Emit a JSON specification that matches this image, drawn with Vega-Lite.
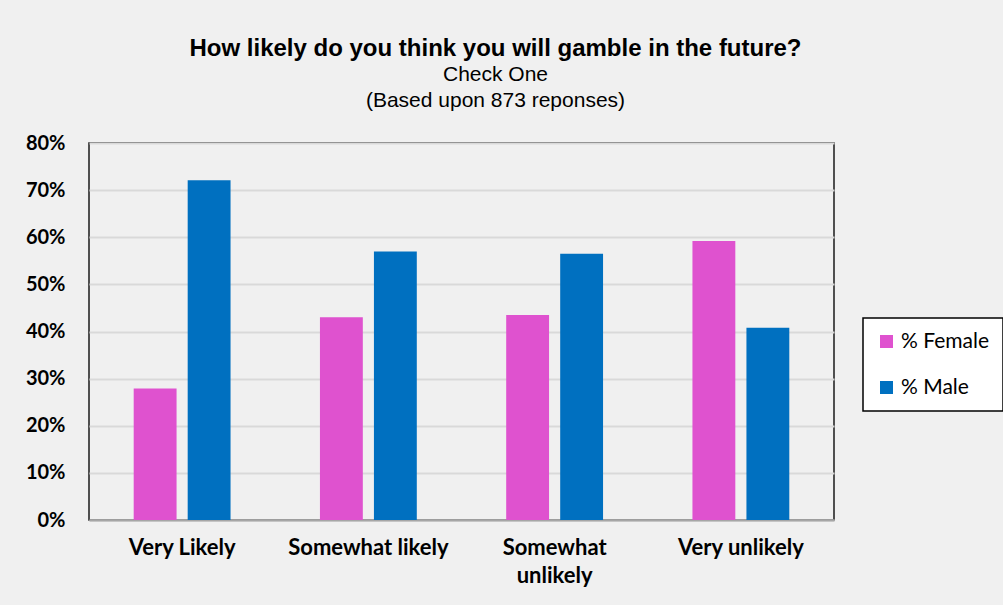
{
  "$schema": "https://vega.github.io/schema/vega-lite/v6.json",
  "width": 745,
  "height": 377,
  "autosize": {"type": "none"},
  "padding": {"left": 89, "top": 143, "right": 169, "bottom": 85},
  "background": "#f0f0f0",
  "title": {
    "text": "How likely do you think you will gamble in the future?",
    "subtitle": ["Check One", "(Based upon 873 reponses)"],
    "anchor": "middle",
    "frame": "group",
    "dx": 34,
    "offset": 22,
    "font": "Liberation Sans",
    "fontSize": 24,
    "fontWeight": "bold",
    "color": "#000000",
    "subtitleFont": "Liberation Sans",
    "subtitleFontSize": 21,
    "subtitleColor": "#000000",
    "subtitleLineHeight": 26.5,
    "subtitlePadding": 3
  },
  "data": {
    "values": [
      {"response": "Very Likely", "gender": "% Female", "pct": 0.279},
      {"response": "Very Likely", "gender": "% Male", "pct": 0.721},
      {"response": "Somewhat likely", "gender": "% Female", "pct": 0.430},
      {"response": "Somewhat likely", "gender": "% Male", "pct": 0.570},
      {"response": "Somewhat unlikely", "gender": "% Female", "pct": 0.435},
      {"response": "Somewhat unlikely", "gender": "% Male", "pct": 0.565},
      {"response": "Very unlikely", "gender": "% Female", "pct": 0.592},
      {"response": "Very unlikely", "gender": "% Male", "pct": 0.408}
    ]
  },
  "mark": {"type": "bar"},
  "encoding": {
    "x": {
      "field": "response",
      "type": "nominal",
      "sort": ["Very Likely", "Somewhat likely", "Somewhat unlikely", "Very unlikely"],
      "scale": {"paddingInner": 0.48, "paddingOuter": 0.24},
      "axis": {
        "title": null,
        "labelAngle": 0,
        "labelFont": "Lato",
        "labelFontWeight": "bold",
        "labelFontSize": 22,
        "labelColor": "#000000",
        "labelPadding": 17,
        "labelLineHeight": 28,
        "labelExpr": "datum.label == 'Somewhat unlikely' ? ['Somewhat', 'unlikely'] : datum.label",
        "ticks": false,
        "domainColor": "#a6a6a6",
        "domainWidth": 2,
        "grid": false
      }
    },
    "xOffset": {
      "field": "gender",
      "type": "nominal",
      "sort": ["% Female", "% Male"],
      "scale": {"paddingInner": 0.206, "paddingOuter": 0}
    },
    "y": {
      "field": "pct",
      "type": "quantitative",
      "scale": {"domain": [0, 0.8], "nice": false},
      "axis": {
        "title": null,
        "values": [0, 0.1, 0.2, 0.3, 0.4, 0.5, 0.6, 0.7, 0.8],
        "format": ".0%",
        "labelFont": "Lato",
        "labelFontWeight": "bold",
        "labelFontSize": 20,
        "labelColor": "#000000",
        "labelPadding": 24,
        "ticks": false,
        "domain": false,
        "gridColor": "#d9d9d9",
        "gridWidth": 2
      }
    },
    "color": {
      "field": "gender",
      "type": "nominal",
      "scale": {"domain": ["% Female", "% Male"], "range": ["#df52cf", "#0070c0"]},
      "legend": {
        "title": null,
        "orient": "none",
        "legendX": 774,
        "legendY": 175,
        "fillColor": "#ffffff",
        "strokeColor": "#000000",
        "padding": 13,
        "symbolType": "square",
        "symbolSize": 169,
        "symbolStrokeWidth": 0,
        "labelFont": "Lato",
        "labelFontSize": 21,
        "labelColor": "#000000",
        "labelOffset": 4,
        "rowPadding": 24,
        "encode": {"legend": {"update": {"strokeWidth": {"value": 1.5}}}}
      }
    }
  },
  "config": {
    "view": {"stroke": "#1a1a1a", "strokeWidth": 1.5}
  }
}
